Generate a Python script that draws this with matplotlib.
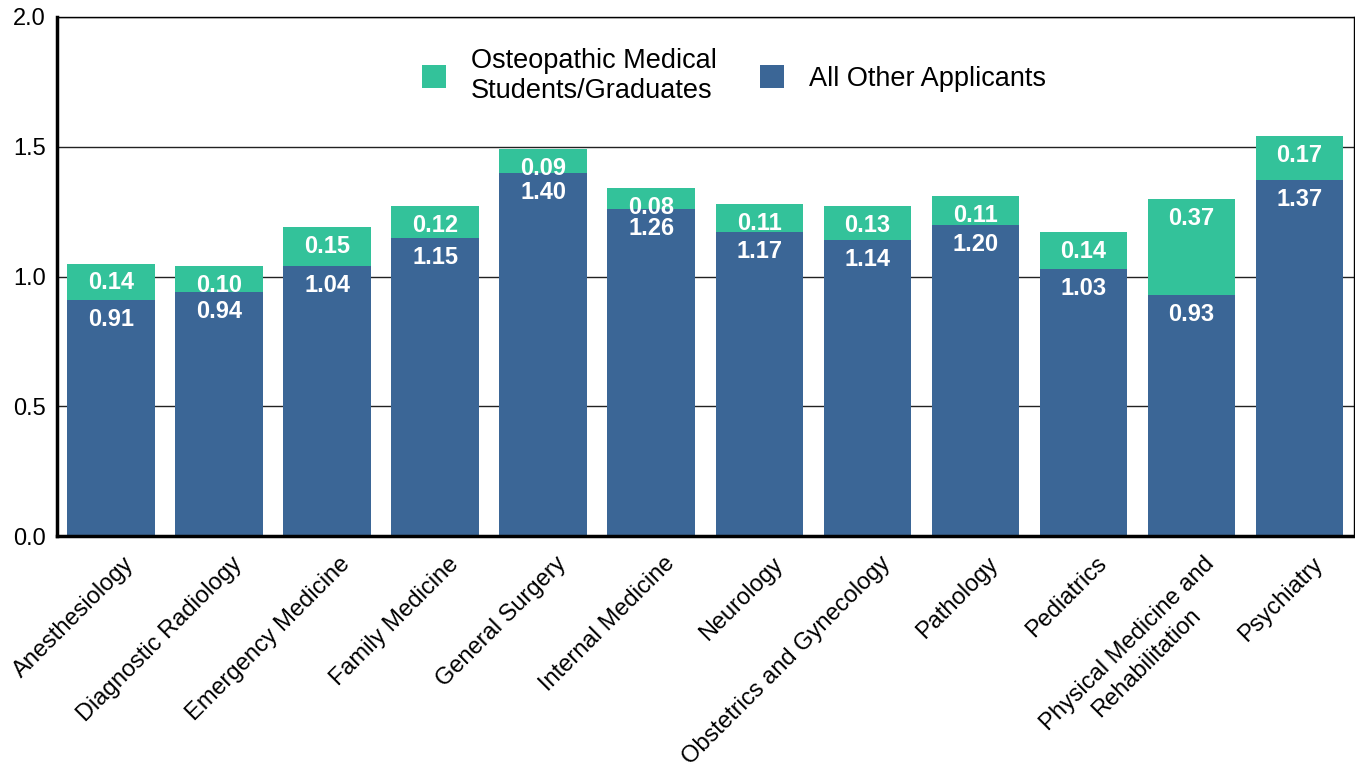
import matplotlib
matplotlib.use('Agg')
from matplotlib import pyplot as plt
from matplotlib.transforms import ScaledTranslation
import numpy as np

plt.rcParams['font.family'] = ['Liberation Sans', 'DejaVu Sans']

specialties = ['Anesthesiology', 'Diagnostic Radiology', 'Emergency Medicine',
               'Family Medicine', 'General Surgery', 'Internal Medicine',
               'Neurology', 'Obstetrics and Gynecology', 'Pathology',
               'Pediatrics', 'Physical Medicine and\nRehabilitation', 'Psychiatry']
all_other = [0.91, 0.94, 1.04, 1.15, 1.40, 1.26, 1.17, 1.14, 1.20, 1.03, 0.93, 1.37]
osteopathic = [0.14, 0.10, 0.15, 0.12, 0.09, 0.08, 0.11, 0.13, 0.11, 0.14, 0.37, 0.17]

blue = '#3b6696'
teal = '#33c29a'

fig = plt.figure(figsize=(13.55, 7.67), dpi=100)
ax = fig.add_axes([0.042, 0.301, 0.957, 0.677])

x = np.arange(len(specialties))
w = 0.81
b1 = ax.bar(x, all_other, w, color=blue, label='All Other Applicants', zorder=2)
b2 = ax.bar(x, osteopathic, w, bottom=all_other, color=teal,
            label='Osteopathic Medical\nStudents/Graduates', zorder=2)

# value labels just under the top of each segment
for i in range(len(x)):
    ax.annotate('%.2f' % all_other[i], (x[i], all_other[i]), xytext=(0, -14),
                textcoords='offset points', ha='center', va='center',
                color='white', fontsize=17, fontweight='bold', zorder=3)
    top = all_other[i] + osteopathic[i]
    ax.annotate('%.2f' % osteopathic[i], (x[i], top), xytext=(0, -14),
                textcoords='offset points', ha='center', va='center',
                color='white', fontsize=17, fontweight='bold', zorder=3)

ax.set_ylim(0, 2.0)
ax.set_xlim(-0.5, len(x) - 0.5)
ax.set_yticks([0, 0.5, 1.0, 1.5, 2.0])
ax.set_yticklabels(['0.0', '0.5', '1.0', '1.5', '2.0'], fontsize=17)
ax.yaxis.grid(True, color='#222222', linewidth=1, zorder=0)
ax.set_axisbelow(True)
ax.tick_params(axis='y', length=0, pad=8)
ax.tick_params(axis='x', length=0, pad=12)
ax.set_xticks(x)
ax.set_xticklabels(specialties, rotation=45, ha='right', rotation_mode='anchor',
                   fontsize=17, multialignment='center', linespacing=1.3)
shift = ScaledTranslation(12 / 100, 0, fig.dpi_scale_trans)
for lab in ax.get_xticklabels():
    lab.set_transform(lab.get_transform() + shift)

ax.spines['left'].set_linewidth(2.5)
ax.spines['bottom'].set_linewidth(2.5)
ax.spines['top'].set_linewidth(1)
ax.spines['right'].set_linewidth(1)

ax.legend(handles=[b2, b1], loc='upper center', bbox_to_anchor=(0.522, 0.987),
          ncol=2, frameon=False, fontsize=19.5, handlelength=0.9, handleheight=0.9,
          columnspacing=1.6, handletextpad=0.9, labelspacing=0.2)

plt.savefig('out.png', dpi=100)
